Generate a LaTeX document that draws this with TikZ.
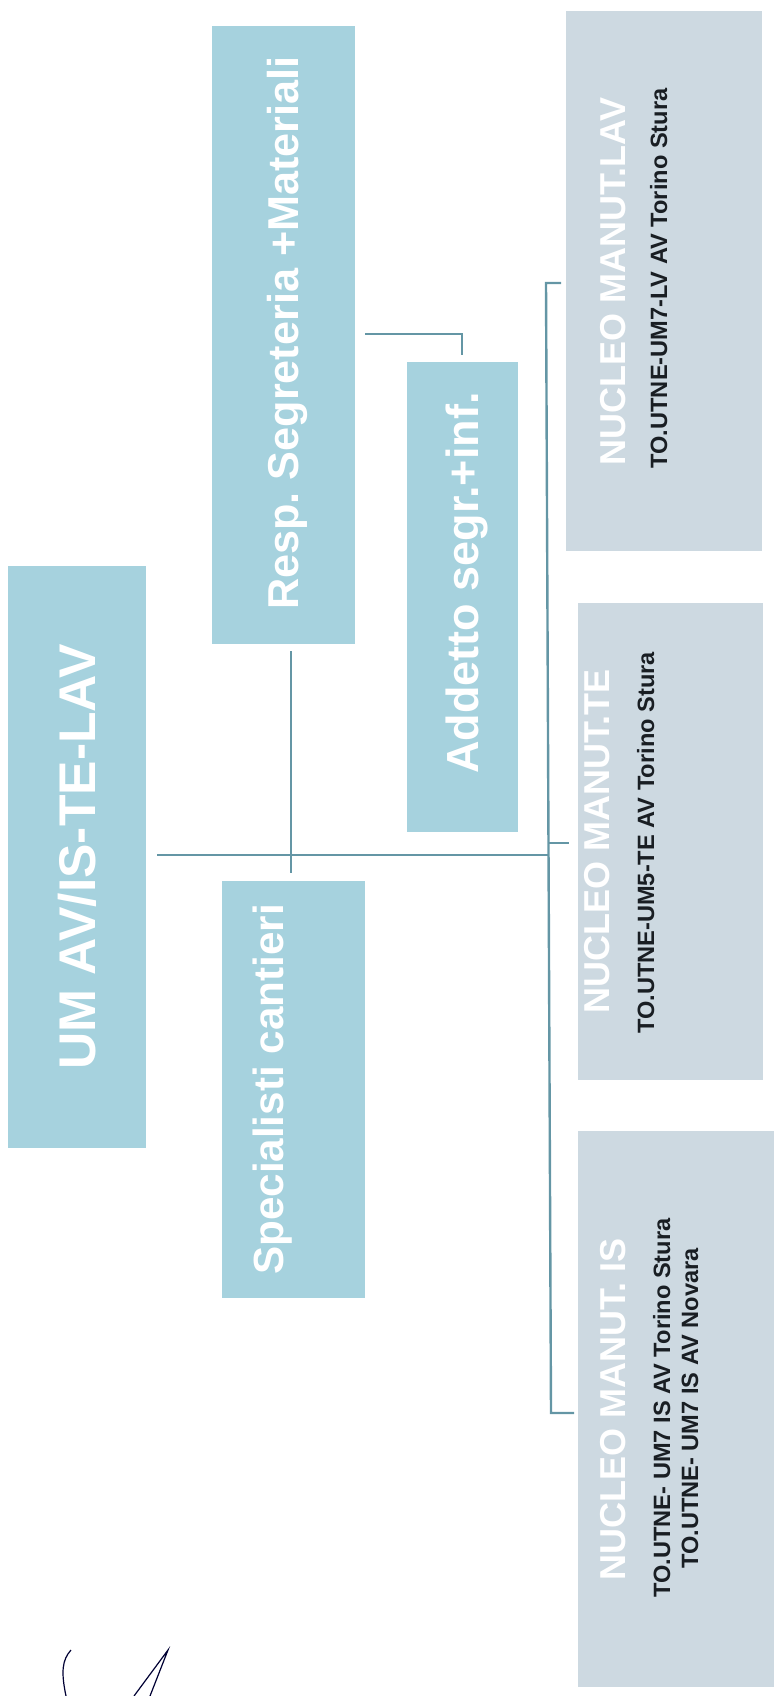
\documentclass[tikz,border=0pt]{standalone}
\usepackage{fontspec}
\setmainfont{Liberation Sans}
\usepackage{tikz}

\definecolor{boxblue}{RGB}{166,210,222}
\definecolor{boxgrey}{RGB}{205,217,225}
\definecolor{linec}{RGB}{100,150,165}
\definecolor{subtxt}{RGB}{25,30,35}

\tikzset{
  bluebox/.style={rectangle, fill=boxblue, inner sep=0pt},
  greybox/.style={rectangle, fill=boxgrey, inner sep=0pt},
  vtext/.style={rotate=90, anchor=base, inner sep=0pt, text=white,
    font=\bfseries\fontsize{#1}{#1}\selectfont},
  vsub/.style={rotate=90, anchor=base, inner sep=0pt, text=subtxt,
    font=\bfseries\fontsize{11.8}{14}\selectfont},
  link/.style={draw=linec, line width=1.2pt},
  sig/.style={draw=black!80!blue, line width=0.6pt}
}

\begin{document}
\begin{tikzpicture}[x=0.5pt, y=-0.5pt]
\useasboundingbox (0,0) rectangle (773,1696);

% boxes
\node[bluebox, minimum width=69pt, minimum height=291pt] (um) at (77,857) {};
\node[bluebox, minimum width=71.5pt, minimum height=309pt] (resp) at (283.5,335) {};
\node[bluebox, minimum width=71.5pt, minimum height=208.5pt] (spec) at (293.5,1089.5) {};
\node[bluebox, minimum width=55.5pt, minimum height=235pt] (addetto) at (462.5,597) {};
\node[greybox, minimum width=98pt, minimum height=270pt] (nlav) at (664,281) {};
\node[greybox, minimum width=92.5pt, minimum height=238.5pt] (nte) at (670.5,841.5) {};
\node[greybox, minimum width=98.5pt, minimum height=278pt] (nis) at (676.5,1409) {};

% texts
\node[vtext=25.8] (umT) at (95.5,857) {UM AV/IS-TE-LAV};
\node[vtext=21.6] (respT) at (298.8,333) {Resp.\ Segreteria +Materiali};
\node[vtext=21.1] (specT) at (283,1089.5) {Specialisti cantieri};
\node[vtext=22.5] (addT) at (478,583) {Addetto segr.+inf.};
\node[vtext=18] (lavT) at (625,281.5) {NUCLEO MANUT.LAV};
\node[vsub] (lavS) at (667,278.5) {TO.UTNE-UM7-LV AV Torino Stura};
\node[vtext=18] (teT) at (609,841) {NUCLEO MANUT.TE};
\node[vsub] (teS) at (654,843) {TO.UTNE-UM5-TE AV Torino Stura};
\node[vtext=18] (isT) at (625,1409) {NUCLEO MANUT. IS};
\node[vsub] (isS1) at (670,1408) {TO.UTNE- UM7 IS AV Torino Stura};
\node[vsub] (isS2) at (698,1408.5) {TO.UTNE- UM7 IS AV Novara};

% connectors
\coordinate (m0) at (157,855);
\coordinate (m1) at (548.5,855);
\coordinate (v0) at (291,651);
\coordinate (v1) at (291,873);
\coordinate (r0) at (365,334);
\coordinate (r1) at (462,334);
\coordinate (r2) at (462,355);
\coordinate (b0) at (561,283);
\coordinate (b1) at (546,283);
\coordinate (b2) at (551,1413);
\coordinate (b3) at (574,1413);
\coordinate (t0) at (548.5,843);
\coordinate (t1) at (569,843);
\draw[link] (m0) -- (m1);
\draw[link] (v0) -- (v1);
\draw[link] (r0) -- (r1) -- (r2);
\draw[link] (b0) -- (b1) -- (b2) -- (b3);
\draw[link] (t0) -- (t1);

% signature
\draw[sig] (66,1696) .. controls (61,1672) and (62,1660) .. (71,1650);
\draw[sig] (134,1696) -- (168,1650) -- (150,1696);
\end{tikzpicture}
\end{document}
